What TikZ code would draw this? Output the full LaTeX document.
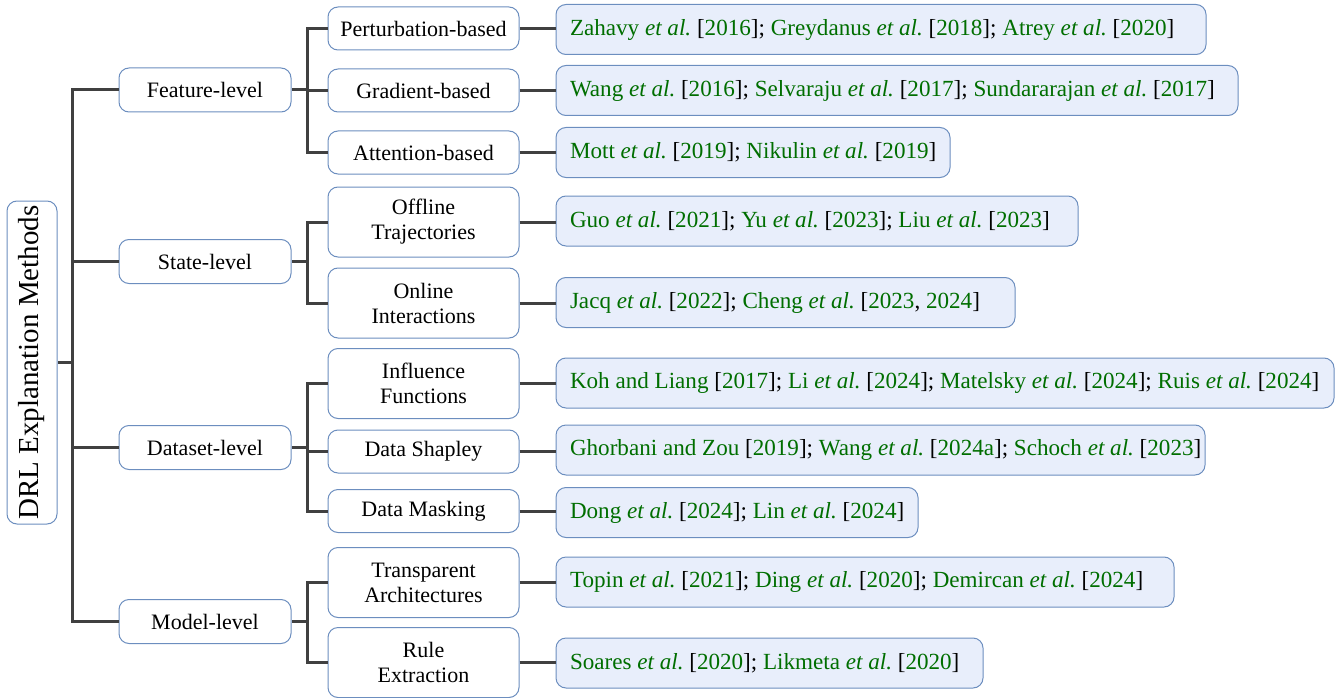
\documentclass[tikz,border=0pt]{standalone}
\usepackage{fontspec}
\setmainfont{Liberation Serif}
\definecolor{cgreen}{RGB}{0,110,0}
\definecolor{bblue}{RGB}{108,142,191}
\definecolor{lfill}{RGB}{232,238,251}
\definecolor{lgray}{RGB}{64,64,64}
\newcommand{\gr}[1]{\textcolor{cgreen}{#1}}
\newcommand{\ce}[2]{\gr{#1 \textit{et al.}}\ [\gr{#2}]}
\newcommand{\cn}[2]{\gr{#1} [\gr{#2}]}
\newcommand{\lt}[2]{\makebox[\dimexpr#1pt-28pt\relax][l]{#2}}
\begin{document}
\begin{tikzpicture}[x=1pt,y=-1pt,
  box/.style={draw=bblue, line width=1pt, rounded corners=10pt, fill=white, align=center, font=\fontsize{22}{25}\selectfont, inner sep=0pt},
  lone/.style={box, minimum width=172pt, minimum height=44pt},
  ltwo/.style={box, minimum width=191pt, minimum height=43pt},
  ltwob/.style={box, minimum width=191pt, minimum height=70pt},
  leaf/.style={box, fill=lfill, anchor=west, minimum height=50pt, inner xsep=14pt, font=\fontsize{23.1}{26}\selectfont},
  conn/.style={draw=lgray, line width=3pt}]
\useasboundingbox (0,0) rectangle (1343,698);
% root
\node[box, rotate=90, minimum width=323pt, minimum height=50pt, font=\fontsize{29}{33}\selectfont] (root) at (32,362.5) {DRL Explanation Methods};
% level 1
\node[lone] (f) at (205,90) {Feature-level};
\node[lone] (s) at (205,261.5) {State-level};
\node[lone] (d) at (205,447.5) {Dataset-level};
\node[lone] (m) at (205,621.5) {Model-level};
% level 2
\node[ltwo] (f1) at (423.5,28.5) {Perturbation-based};
\node[ltwo] (f2) at (423.5,90.5) {Gradient-based};
\node[ltwo] (f3) at (423.5,152.5) {Attention-based};
\node[ltwob] (s1) at (423.5,222) {Offline\\Trajectories};
\node[ltwob] (s2) at (423.5,303) {Online\\Interactions};
\node[ltwob] (d1) at (423.5,383.5) {Influence\\Functions};
\node[ltwo] (d2) at (423.5,451.5) {Data Shapley};
\node[ltwo] (d3) at (423.5,511) {Data Masking};
\node[ltwob] (m1) at (423.5,582.5) {Transparent\\Architectures};
\node[ltwob] (m2) at (423.5,662.5) {Rule\\Extraction};
% leaves
\node[leaf] (l1) at (555.5,29.5) {\lt{650}{\ce{Zahavy}{2016}; \ce{Greydanus}{2018}; \ce{Atrey}{2020}}};
\node[leaf] (l2) at (555.5,90.5) {\lt{682}{\ce{Wang}{2016}; \ce{Selvaraju}{2017}; \ce{Sundararajan}{2017}}};
\node[leaf] (l3) at (555.5,152.5) {\lt{394}{\ce{Mott}{2019}; \ce{Nikulin}{2019}}};
\node[leaf] (l4) at (555.5,221) {\lt{522}{\ce{Guo}{2021}; \ce{Yu}{2023}; \ce{Liu}{2023}}};
\node[leaf] (l5) at (555.5,302.5) {\lt{459}{\ce{Jacq}{2022}; \gr{Cheng \textit{et al.}}\ [\gr{2023}, \gr{2024}]}};
\node[leaf] (l6) at (555.5,383) {\lt{778}{\cn{Koh and Liang}{2017}; \ce{Li}{2024}; \ce{Matelsky}{2024}; \ce{Ruis}{2024}}};
\node[leaf] (l7) at (555.5,450) {\lt{649}{\cn{Ghorbani and Zou}{2019}; \ce{Wang}{2024a}; \ce{Schoch}{2023}}};
\node[leaf] (l8) at (555.5,512.5) {\lt{362}{\ce{Dong}{2024}; \ce{Lin}{2024}}};
\node[leaf] (l9) at (555.5,582) {\lt{618}{\ce{Topin}{2021}; \ce{Ding}{2020}; \ce{Demircan}{2024}}};
\node[leaf] (l10) at (555.5,663) {\lt{427}{\ce{Soares}{2020}; \ce{Likmeta}{2020}}};
% connectors root -> level 1
\foreach \c in {f,s,d,m}
  \draw[conn] (\c.west) -- ++(-46,0) |- (root.south);
% level 1 -> level 2
\foreach \c in {f1,f2,f3} \draw[conn] (\c.west) -- ++(-20,0) |- (f.east);
\foreach \c in {s1,s2} \draw[conn] (\c.west) -- ++(-20,0) |- (s.east);
\foreach \c in {d1,d2,d3} \draw[conn] (\c.west) -- ++(-20,0) |- (d.east);
\foreach \c in {m1,m2} \draw[conn] (\c.west) -- ++(-20,0) |- (m.east);
% level 2 -> leaves
\foreach \a/\b in {f1/l1,f2/l2,f3/l3,s1/l4,s2/l5,d1/l6,d2/l7,d3/l8,m1/l9,m2/l10}
  \draw[conn] (\a.east) -- (\a.east -| \b.west);
\end{tikzpicture}
\end{document}
